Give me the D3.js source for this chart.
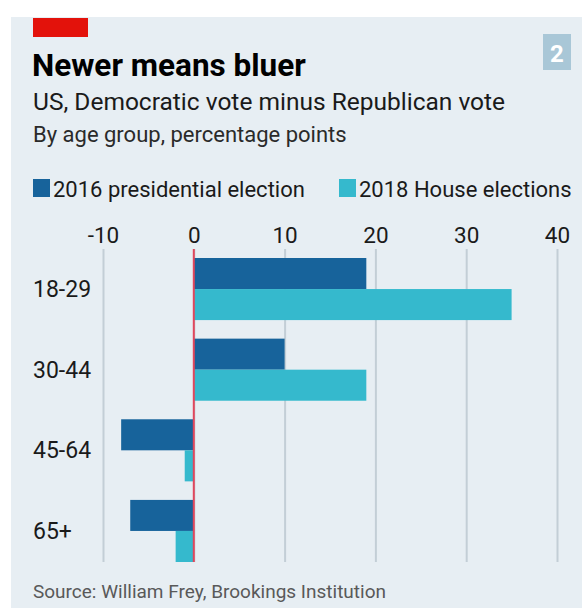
<!DOCTYPE html>
<html lang="en">
<head>
<meta charset="UTF-8">
<title>Newer means bluer</title>
<script src="https://d3js.org/d3.v7.min.js"></script>
<style>
  body { margin: 0; background: #fff; }
  text { font-family: Roboto, Lato, sans-serif; fill: #1a1a1a; }
</style>
</head>
<body>
<svg id="chart" width="582" height="609"></svg>
<script>
  // age groups and the two series (percentage points, Dem minus Rep)
  const ageGroups = ["18-29", "30-44", "45-64", "65+"]
  const pres2016 = [19, 10, -8, -7]
  const house2018 = [35, 19, -1, -2]
  const seriesNames = ["2016 presidential election", "2018 House elections"]
  const xTicks = [-10, 0, 10, 20, 30, 40]

  const colors = ["#17639b", "#35b9cd"]

  const svg = d3.select("#chart")

  // panel background
  svg.append("rect").attr("x", 11).attr("y", 17).attr("width", 571).attr("height", 591)
    .attr("fill", "#e7eef3")
  svg.append("rect").attr("x", 33).attr("y", 18).attr("width", 55).attr("height", 19)
    .attr("fill", "#e3120b")

  // chart number box
  svg.append("rect").attr("x", 543).attr("y", 34).attr("width", 28).attr("height", 36)
    .attr("fill", "#a9c7d7")
  svg.append("text").attr("x", 557).attr("y", 62).attr("text-anchor", "middle")
    .style("font-size", "24px").style("font-weight", "bold").style("fill", "#fff").text("2")

  // titles
  svg.append("text").attr("x", 32).attr("y", 75.5)
    .style("font-size", "31.5px").style("font-weight", "bold").style("fill", "#000")
    .text("Newer means bluer")
  svg.append("text").attr("x", 33).attr("y", 110)
    .style("font-size", "24.5px").text("US, Democratic vote minus Republican vote")
  svg.append("text").attr("x", 33).attr("y", 142)
    .style("font-size", "22px").style("fill", "#2a2a2a").text("By age group, percentage points")

  // legend
  const legendX = [33, 339]
  seriesNames.forEach((name, i) => {
    svg.append("rect").attr("x", legendX[i]).attr("y", 179).attr("width", 17).attr("height", 18)
      .attr("fill", colors[i])
    svg.append("text").attr("x", legendX[i] + 20).attr("y", 197)
      .style("font-size", "22px").text(name)
  })

  // scales
  const x = d3.scaleLinear().domain([-10, 40]).range([103, 557])
  const y = d3.scaleBand().domain(ageGroups).range([258, 562]).paddingInner(0.23).paddingOuter(0)
  const sub = d3.scaleBand().domain([0, 1]).range([0, y.bandwidth()])

  // gridlines + tick labels via axis
  const xAxis = d3.axisTop(x).tickValues(xTicks).tickSize(-(562 - 249)).tickFormat(d => String(d))
  const gx = svg.append("g").attr("transform", "translate(0,249)").call(xAxis)
  gx.select(".domain").remove()
  gx.selectAll(".tick line").attr("stroke", "#c3ced6").attr("stroke-width", 2)
  gx.selectAll(".tick text").attr("y", -6).attr("dy", 0)
    .style("font-size", "22.5px").style("font-family", "Roboto, sans-serif").attr("fill", "#1a1a1a")

  // bars
  const rows = ageGroups.map((g, i) => ({ group: g, values: [pres2016[i], house2018[i]] }))
  const gRows = svg.selectAll("g.row").data(rows).enter().append("g").attr("class", "row")
    .attr("transform", d => `translate(0,${y(d.group)})`)
  gRows.selectAll("rect").data(d => d.values).enter().append("rect")
    .attr("x", d => x(Math.min(0, d)))
    .attr("y", (d, i) => sub(i))
    .attr("width", d => Math.abs(x(d) - x(0)))
    .attr("height", sub.bandwidth())
    .attr("fill", (d, i) => colors[i])

  // category labels
  const yAxis = d3.axisLeft(y).tickSize(0)
  const gy = svg.append("g").attr("transform", "translate(33,0)").call(yAxis)
  gy.select(".domain").remove()
  gy.selectAll(".tick text").attr("x", 0).attr("text-anchor", "start").attr("dy", "0.35em")
    .style("font-size", "23px").style("font-family", "Roboto, sans-serif").attr("fill", "#1a1a1a")

  // zero line
  svg.append("line").attr("x1", x(0)).attr("x2", x(0)).attr("y1", 249).attr("y2", 562)
    .attr("stroke", "#e0475c").attr("stroke-width", 2)

  // source
  svg.append("text").attr("x", 33).attr("y", 598)
    .style("font-size", "19px").style("fill", "#595959")
    .text("Source: William Frey, Brookings Institution")
</script>
</body>
</html>
